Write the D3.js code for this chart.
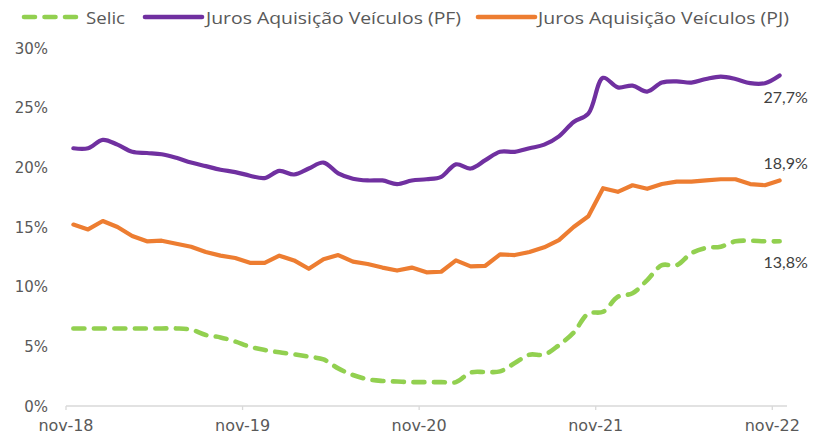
<!DOCTYPE html>
<html>
<head>
<meta charset="utf-8">
<script src="https://cdn.jsdelivr.net/npm/d3@7"></script>
<style>
  html, body { margin: 0; padding: 0; background: #fff; }
  svg { display: block; }
</style>
</head>
<body>
<svg id="chart" width="813" height="435"></svg>
<script>
const months = ["nov-18","dez-18","jan-19","fev-19","mar-19","abr-19","mai-19","jun-19","jul-19","ago-19","set-19","out-19",
  "nov-19","dez-19","jan-20","fev-20","mar-20","abr-20","mai-20","jun-20","jul-20","ago-20","set-20","out-20",
  "nov-20","dez-20","jan-21","fev-21","mar-21","abr-21","mai-21","jun-21","jul-21","ago-21","set-21","out-21",
  "nov-21","dez-21","jan-22","fev-22","mar-22","abr-22","mai-22","jun-22","jul-22","ago-22","set-22","out-22","nov-22"];

const selic = [6.5,6.5,6.5,6.5,6.5,6.5,6.5,6.5,6.4,5.95,5.75,5.4,
  4.97,4.7,4.5,4.33,4.13,3.9,3.15,2.6,2.24,2.1,2.05,2.0,
  2.0,2.0,2.0,2.8,2.85,2.9,3.6,4.3,4.3,5.1,6.15,7.75,
  7.9,9.15,9.45,10.55,11.8,11.8,12.8,13.25,13.35,13.8,13.85,13.8,13.8];

const jurosPF = [21.6,21.6,22.3,21.9,21.3,21.2,21.1,20.8,20.4,20.1,19.8,19.6,
  19.3,19.1,19.7,19.4,19.9,20.4,19.5,19.05,18.9,18.9,18.6,18.9,
  19.0,19.2,20.25,19.9,20.6,21.3,21.3,21.6,21.9,22.6,23.8,24.5,
  27.5,26.7,26.85,26.35,27.1,27.2,27.1,27.4,27.6,27.4,27.05,27.05,27.7];

const jurosPJ = [15.2,14.8,15.5,15.0,14.25,13.8,13.85,13.6,13.35,12.9,12.6,12.4,
  12.0,12.0,12.6,12.2,11.5,12.3,12.65,12.1,11.9,11.6,11.35,11.6,
  11.2,11.25,12.2,11.7,11.75,12.7,12.65,12.9,13.3,13.9,15.0,15.9,
  18.25,17.95,18.5,18.2,18.6,18.8,18.8,18.9,19.0,19.0,18.6,18.5,18.9];

const yTicks = [0,5,10,15,20,25,30];
const xTickLabels = ["nov-18","nov-19","nov-20","nov-21","nov-22"];
const seriesNames = ["Selic","Juros Aquisição Veículos (PF)","Juros Aquisição Veículos (PJ)"];
const lastLabels = ["13,8%","27,7%","18,9%"];

const svg = d3.select("#chart");
const axisFont = "'DejaVu Sans', sans-serif";
const grayText = "#595959";

const x = d3.scalePoint().domain(months).range([66, 787]).padding(0.5);
const step = x.step();
const y = d3.scaleLinear().domain([0, 30]).range([406, 48]);

const colors = { selic: "#92D050", pf: "#7030A0", pj: "#ED7D31" };

// Y axis labels
const yAxis = d3.axisLeft(y).tickValues(yTicks).tickFormat(d => d + "%").tickSize(0).tickPadding(0);
const yg = svg.append("g").attr("transform", "translate(48,0)").call(yAxis);
yg.select(".domain").remove();
yg.selectAll("text").attr("font-family", axisFont).attr("font-size", 15).attr("fill", grayText).attr("dy", "0.34em");

// X axis: line + ticks at category boundaries
const xg = svg.append("g");
xg.append("line").attr("x1", x(months[0]) - step/2).attr("x2", x(months[months.length-1]) + step/2)
  .attr("y1", y(0)).attr("y2", y(0)).attr("stroke", "#D9D9D9").attr("stroke-width", 1.3);
xTickLabels.forEach(lbl => {
  const px = x(lbl) - step/2;
  xg.append("line").attr("x1", px).attr("x2", px).attr("y1", y(0)).attr("y2", y(0) + 4)
    .attr("stroke", "#D9D9D9").attr("stroke-width", 1.3);
  xg.append("text").attr("x", px).attr("y", 431).attr("text-anchor", "middle")
    .attr("font-family", axisFont).attr("font-size", 16).attr("fill", grayText).text(lbl);
});

// Lines
function drawLine(data, color, curve, dash) {
  const line = d3.line().x((d, i) => x(months[i])).y(d => y(d)).curve(curve);
  const p = svg.append("path").datum(data).attr("d", line).attr("fill", "none")
    .attr("stroke", color).attr("stroke-width", 4.2).attr("stroke-linejoin", "round").attr("stroke-linecap", "round");
  if (dash) p.attr("stroke-dasharray", dash).attr("stroke-width", 4.6);
}
drawLine(jurosPJ, colors.pj, d3.curveLinear);
drawLine(jurosPF, colors.pf, d3.curveCatmullRom.alpha(0.5));
drawLine(selic, colors.selic, d3.curveCatmullRom.alpha(0.5), "11,9.5");

// Last-value labels
const labelFont = "Lato, 'Liberation Sans', sans-serif";
const li = months.length - 1;
const lastX = x(months[li]);
[[selic, 27, lastLabels[0]], [jurosPF, 28, lastLabels[1]], [jurosPJ, -11, lastLabels[2]]].forEach(([arr, dy, txt]) => {
  svg.append("text").attr("x", lastX + 6).attr("y", y(arr[li]) + dy).attr("text-anchor", "middle")
    .attr("font-family", labelFont).attr("font-size", 16).attr("fill", "#404040").text(txt);
});

// Legend
const legendFont = "'Open Sans', sans-serif";
const legend = [
  { name: seriesNames[0], color: colors.selic, dash: "11,9.5", x1: 24, x2: 79, tx: 86, w: 39 },
  { name: seriesNames[1], color: colors.pf, dash: null, x1: 145, x2: 202, tx: 206, w: 255 },
  { name: seriesNames[2], color: colors.pj, dash: null, x1: 478, x2: 535, tx: 538, w: 251 }
];
legend.forEach(l => {
  const ln = svg.append("line").attr("x1", l.x1).attr("x2", l.x2).attr("y1", 17).attr("y2", 17)
    .attr("stroke", l.color).attr("stroke-width", 4.6).attr("stroke-linecap", "round");
  if (l.dash) ln.attr("stroke-dasharray", l.dash);
  svg.append("text").attr("x", l.tx).attr("y", 23.5).attr("font-family", legendFont)
    .attr("font-size", 17).attr("fill", grayText)
    .attr("textLength", l.w).attr("lengthAdjust", "spacingAndGlyphs").text(l.name);
});
</script>
</body>
</html>
